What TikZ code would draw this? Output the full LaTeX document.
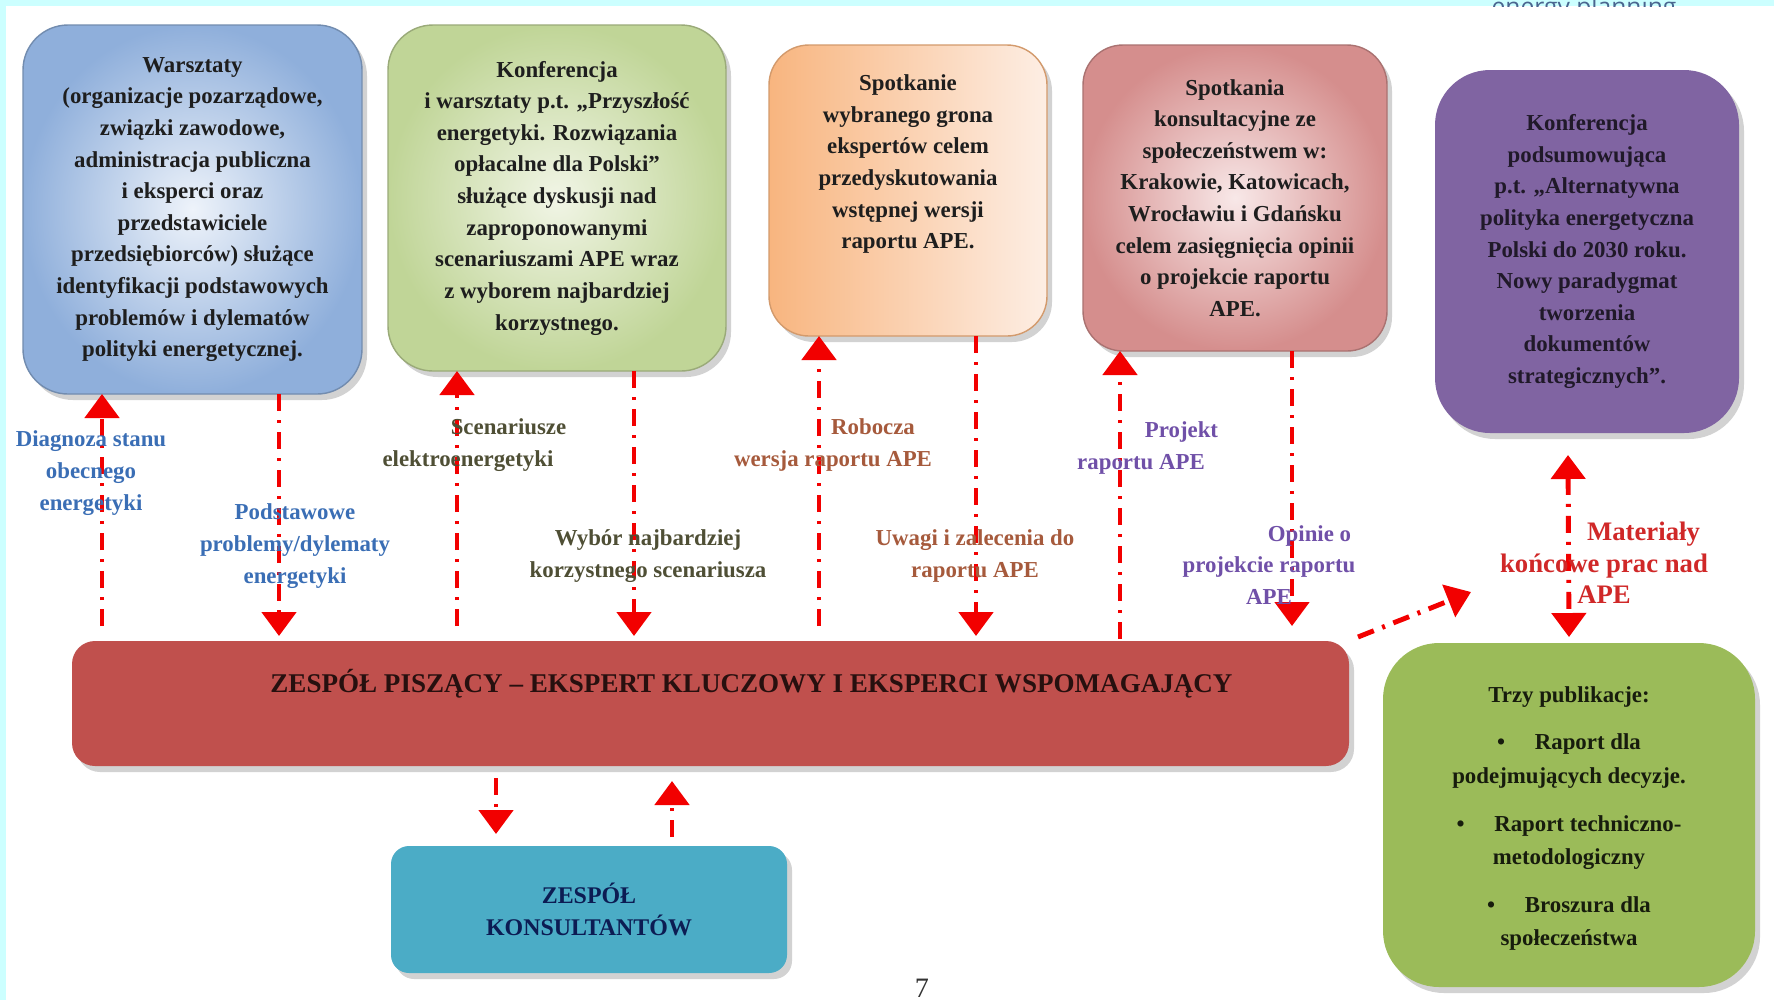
\documentclass[tikz,border=0pt]{standalone}
\usepackage{fontspec}
\setmainfont{Liberation Serif}
\newfontfamily\headerfont{Open Sans}
\usetikzlibrary{positioning,arrows.meta,shadows}
\definecolor{framecyan}{HTML}{CCFFFF}
\definecolor{headerink}{HTML}{4A6690}
\definecolor{linkred}{HTML}{F20000}
\definecolor{boxink}{HTML}{1E1E1E}
\definecolor{warsztatyout}{HTML}{8FAFDB}
\definecolor{warsztatyin}{HTML}{EEF3FA}
\definecolor{konferencjaout}{HTML}{C0D597}
\definecolor{konferencjain}{HTML}{F1F5E6}
\definecolor{spotkanieout}{HTML}{F8B57F}
\definecolor{spotkaniein}{HTML}{FDEEE4}
\definecolor{konsultacjeout}{HTML}{D58E8D}
\definecolor{konsultacjein}{HTML}{F8E8E8}
\definecolor{podsumowanie}{HTML}{8064A2}
\definecolor{zespolred}{HTML}{C0504D}
\definecolor{konsultanciblue}{HTML}{4BACC6}
\definecolor{publikacjegreen}{HTML}{9BBB59}
\definecolor{labelblue}{HTML}{3A6EB5}
\definecolor{labelolive}{HTML}{4F4F35}
\definecolor{labelbrown}{HTML}{A65A3C}
\definecolor{labelpurple}{HTML}{7050A8}
\definecolor{labelred}{HTML}{D02828}
\newcommand{\boxfont}{\bfseries\fontsize{6.5}{9}\selectfont}
\tikzset{
  stage/.style={rounded corners=4.5mm, inner sep=0pt, outer sep=0pt, align=center,
                font=\boxfont, text=boxink, line width=0.4pt,
                drop shadow={opacity=0.35, shadow xshift=0.5mm, shadow yshift=-0.6mm}},
  link/.style={linkred, line width=1.4pt,
               dash pattern=on 1.7mm off 0.9mm on 0.3mm off 0.9mm},
  note/.style={align=center, font=\boxfont},
}

\begin{document}
\begin{tikzpicture}[x=0.1mm, y=-0.1mm, >={Triangle[width=3.4mm,length=2.4mm]}]
  \fill[white] (0,0) rectangle (1774,1000);
  \useasboundingbox (0,0) rectangle (1774,1000);
  \fill[framecyan] (0,0) rectangle (1774,6);
  \fill[framecyan] (0,0) rectangle (6,1000);
  \begin{scope}
    \clip (0,0) rectangle (1774,6);
    \node[font=\headerfont\fontsize{7}{7}\selectfont, text=headerink, anchor=base] (naglowek) at (1584,15) {energy planning};
  \end{scope}

  % consultation stages along the top
  \node[stage, minimum width=33.9mm, minimum height=36.9mm, inner color=warsztatyin,
        outer color=warsztatyout, draw=warsztatyout!80!black] (warsztaty) at (192.5,209.5)
    {Warsztaty\\(organizacje pozarządowe,\\związki zawodowe,\\administracja publiczna\\i eksperci oraz\\przedstawiciele\\przedsiębiorców) służące\\identyfikacji podstawowych\\problemów i dylematów\\polityki energetycznej.};
  \node[stage, minimum width=33.8mm, minimum height=34.6mm, inner color=konferencjain,
        outer color=konferencjaout, draw=konferencjaout!80!black] (konferencja) at (557,198)
    {Konferencja\\i warsztaty p.t. „Przyszłość\\energetyki. Rozwiązania\\opłacalne dla Polski”\\służące dyskusji nad\\zaproponowanymi\\scenariuszami APE wraz\\z wyborem najbardziej\\korzystnego.};
  \node[stage, rounded corners=4mm, minimum width=27.8mm, minimum height=29.1mm, left color=spotkanieout,
        right color=spotkaniein, draw=spotkanieout!85!black] (spotkanie) at (908,190.5) {};
  \node[note, text=boxink, inner sep=0pt, below=2.9mm of spotkanie.north] (spotkanietekst)
    {Spotkanie\\wybranego grona\\ekspertów celem\\przedyskutowania\\wstępnej wersji\\raportu APE.};
  \node[stage, rounded corners=4mm, minimum width=30.4mm, minimum height=30.6mm, inner color=konsultacjein,
        outer color=konsultacjeout, draw=konsultacjeout!80!black] (konsultacje) at (1235,198)
    {Spotkania\\konsultacyjne ze\\społeczeństwem w:\\Krakowie, Katowicach,\\Wrocławiu i Gdańsku\\celem zasięgnięcia opinii\\o projekcie raportu\\APE.};
  \node[stage, rounded corners=5.5mm, minimum width=30.4mm, minimum height=36.3mm, fill=podsumowanie,
        text=podsumowanie!25!black] (podsumowanie) at (1587,251.5)
    {Konferencja\\podsumowująca\\p.t. „Alternatywna\\polityka energetyczna\\Polski do 2030 roku.\\Nowy paradygmat\\tworzenia\\dokumentów\\strategicznych”.};

  % writing team, consultants and final publications
  \node[stage, rounded corners=2.3mm, minimum width=127.7mm, minimum height=12.5mm, fill=zespolred] (zespol) at (710.5,703.5) {};
  \node[font=\bfseries\fontsize{7.7}{9}\selectfont, text=zespolred!20!black] (zespoltekst) at ([xshift=4.1mm, yshift=-4.3mm]zespol.north)
    {ZESPÓŁ PISZĄCY – EKSPERT KLUCZOWY I EKSPERCI WSPOMAGAJĄCY};
  \node[stage, rounded corners=1.8mm, minimum width=39.6mm, minimum height=12.7mm, fill=konsultanciblue,
        text=konsultanciblue!20!black!80!blue, font=\bfseries\fontsize{6.8}{9}\selectfont] (konsultanci) at (589,909.5)
    {ZESPÓŁ\\KONSULTANTÓW};
  \node[stage, rounded corners=5.6mm, minimum width=37.2mm, minimum height=34.4mm, fill=publikacjegreen,
        font=\bfseries\fontsize{6.5}{9.6}\selectfont, text=publikacjegreen!15!black] (publikacje) at (1569,815)
    {\\[-3pt]Trzy publikacje:\\[3.9pt]\textbullet\hspace{1.3em}Raport dla\\podejmujących decyzje.\\[3.9pt]%
     \textbullet\hspace{1.3em}Raport techniczno-\\metodologiczny\\[3.9pt]\textbullet\hspace{1.3em}Broszura dla\\społeczeństwa};

  % flows between the team and the stages
  \draw[link, ->] ([xshift=-9.05mm, yshift=1.5mm]warsztaty.south |- zespol.north) -- ([xshift=-9.05mm]warsztaty.south);
  \draw[link, ->] ([xshift=8.65mm]warsztaty.south) -- ([xshift=8.65mm, yshift=0.5mm]warsztaty.south |- zespol.north);
  \draw[link, ->] ([xshift=-10mm, yshift=1.5mm]konferencja.south |- zespol.north) -- ([xshift=-10mm]konferencja.south);
  \draw[link, ->] ([xshift=7.7mm]konferencja.south) -- ([xshift=7.7mm, yshift=0.5mm]konferencja.south |- zespol.north);
  \draw[link, ->] ([xshift=-8.9mm, yshift=1.5mm]spotkanie.south |- zespol.north) -- ([xshift=-8.9mm]spotkanie.south);
  \draw[link, ->] ([xshift=6.8mm]spotkanie.south) -- ([xshift=6.8mm, yshift=0.5mm]spotkanie.south |- zespol.north);
  \draw[link, ->] ([xshift=-11.5mm, yshift=0.2mm]konsultacje.south |- zespol.north) -- ([xshift=-11.5mm]konsultacje.south);
  \draw[link, ->] ([xshift=5.7mm]konsultacje.south) -- ([xshift=5.7mm, yshift=1.5mm]konsultacje.south |- zespol.north);
  \draw[link, ->] ([xshift=0.9mm, yshift=0.4mm]zespol.north east) -- ([xshift=8.8mm, yshift=5.1mm]publikacje.north west);
  \draw[link, <->] ([xshift=-1.9mm, yshift=-2.2mm]podsumowanie.south) -- ([yshift=0.6mm]publikacje.north);
  \draw[link, ->] ([xshift=-9.3mm, yshift=-1.2mm]konsultanci.north |- zespol.south) -- ([xshift=-9.3mm, yshift=1.2mm]konsultanci.north);
  \draw[link, ->] ([xshift=8.3mm, yshift=0.9mm]konsultanci.north) -- ([xshift=8.3mm, yshift=-1.5mm]konsultanci.north |- zespol.south);

  % what travels along each flow
  \node[note, text=labelblue] (diagnoza) at (91,473) {Diagnoza stanu\\obecnego\\energetyki};
  \node[note, text=labelblue] (problemy) at (295,546) {Podstawowe\\problemy/dylematy\\energetyki};
  \node[note, text=labelolive] (scenariusze) at (468,445) {\hspace*{8.1mm}Scenariusze\\elektroenergetyki};
  \node[note, text=labelolive] (wybor) at (648,556) {Wybór najbardziej\\korzystnego scenariusza};
  \node[note, text=labelbrown] (robocza) at (833,445) {\hspace*{8mm}Robocza\\wersja raportu APE};
  \node[note, text=labelbrown] (uwagi) at (975,556) {Uwagi i zalecenia do\\raportu APE};
  \node[note, text=labelpurple] (projekt) at (1141,448) {\hspace*{8.1mm}Projekt\\raportu APE};
  \node[note, text=labelpurple] (opinie) at (1269,565) {\hspace*{8.1mm}Opinie o\\projekcie raportu\\APE};
  \node[note, text=labelred, font=\bfseries\fontsize{7.6}{9}\selectfont] (materialy) at (1604,563) {\hspace*{7.9mm}Materiały\\końcowe prac nad\\APE};

  \node[font=\fontsize{8}{8}\selectfont, anchor=south, inner sep=0pt, text=black!80] (strona) at (922,998) {7};
\end{tikzpicture}
\end{document}
